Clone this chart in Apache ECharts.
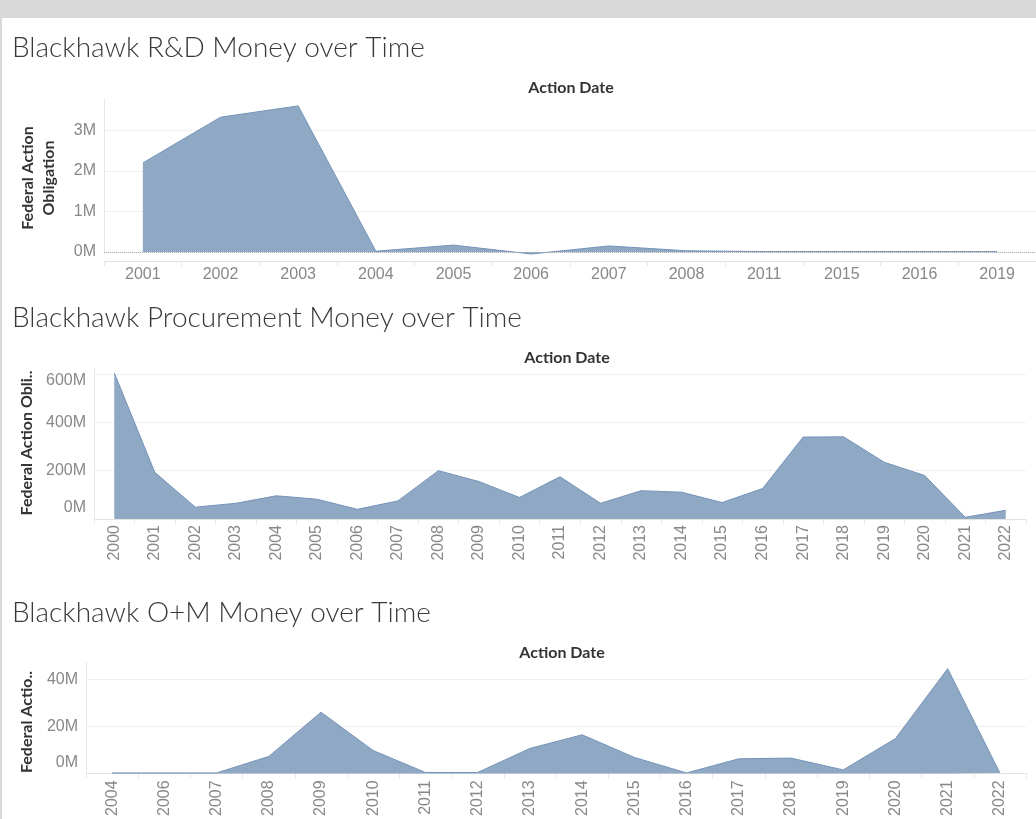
<!DOCTYPE html>
<html>
<head>
<meta charset="utf-8">
<script src="https://cdn.jsdelivr.net/npm/echarts@6/dist/echarts.min.js"></script>
<style>
html, body { margin: 0; padding: 0; background: #fff; }
#chart { width: 1036px; height: 819px; }
</style>
</head>
<body>
<div id="chart"></div>
<script>
// values in millions of dollars
var rdYears = ["2001", "2002", "2003", "2004", "2005", "2006", "2007", "2008", "2011", "2015", "2016", "2019"];
var rdValues = [2.2, 3.33, 3.61, 0.02, 0.17, -0.05, 0.15, 0.03, 0.01, 0.01, 0.01, 0.01];

var procYears = ["2000", "2001", "2002", "2003", "2004", "2005", "2006", "2007", "2008", "2009", "2010", "2011",
  "2012", "2013", "2014", "2015", "2016", "2017", "2018", "2019", "2020", "2021", "2022"];
var procValues = [605, 193, 49, 65, 96, 82, 40, 75, 200, 155, 89, 175, 65, 117, 111, 68, 126, 339, 340, 235, 180, 7, 36];

var omYears = ["2004", "2006", "2007", "2008", "2009", "2010", "2011", "2012", "2013", "2014", "2015", "2016",
  "2017", "2018", "2019", "2020", "2021", "2022"];
var omValues = [0.2, 0.2, 0.2, 7.2, 26, 9.7, 0.4, 0.4, 10.6, 16.4, 6.8, 0.2, 6.2, 6.5, 1.5, 14.8, 44.5, 0.2];

var fillColor = "#8fa8c4";
var edgeColor = "#7593b8";
var labelGray = "#888";
var gridGray = "#efefef";
var fontLabel = "Liberation Sans, Arial, sans-serif";

function xAxisFor(idx, years, rotate, margin, offset) {
  return {
    type: "category",
    gridIndex: idx,
    data: years,
    boundaryGap: true,
    offset: offset || 0,
    axisLine: { show: true, onZero: false, lineStyle: { color: "#e3e3e3" } },
    axisTick: { show: true, length: 5, lineStyle: { color: "#e8e8e8" } },
    axisLabel: {
      interval: 0,
      rotate: rotate,
      margin: margin,
      fontSize: 16,
      fontFamily: fontLabel,
      color: labelGray
    }
  };
}

function yAxisFor(idx, max, interval, formatter) {
  return {
    type: "value",
    gridIndex: idx,
    min: 0,
    max: max,
    interval: interval,
    axisLine: { show: true, lineStyle: { color: "#e6e6e6" } },
    axisTick: { show: false },
    splitLine: { show: true, showMaxLine: false, lineStyle: { color: gridGray } },
    axisLabel: {
      showMaxLabel: false,
      margin: 8,
      fontSize: 16,
      fontFamily: fontLabel,
      color: labelGray,
      formatter: formatter,
      rich: {
        down: { fontSize: 16, fontFamily: fontLabel, color: labelGray, padding: [14, 0, 0, 0] },
        up: { fontSize: 16, fontFamily: fontLabel, color: labelGray, padding: [0, 0, 22, 0] }
      }
    }
  };
}

function areaSeries(idx, values, extra) {
  var s = {
    type: "line",
    xAxisIndex: idx,
    yAxisIndex: idx,
    data: values,
    symbol: "none",
    clip: false,
    lineStyle: { color: edgeColor, width: 1 },
    areaStyle: { color: fillColor, opacity: 1 },
    itemStyle: { color: fillColor }
  };
  for (var k in extra) s[k] = extra[k];
  return s;
}

function titleText(txt, y) {
  return {
    type: "text", x: 12, y: y,
    style: { text: txt, fontSize: 28, fontWeight: 300, fontFamily: "Lato, sans-serif", fill: "#3a3a3a", verticalAlign: "middle" }
  };
}
function headerText(x, y) {
  return {
    type: "text", x: x, y: y,
    style: { text: "Action Date", fontSize: 16, fontWeight: "bold", fontFamily: "Lato, sans-serif", fill: "#333", align: "center", verticalAlign: "middle" }
  };
}
function axisName(txt, x, y) {
  return {
    type: "text", x: x, y: y, rotation: Math.PI / 2,
    style: { text: txt, fontSize: 16, fontWeight: "bold", fontFamily: "Lato, sans-serif", fill: "#333", align: "center", verticalAlign: "middle", lineHeight: 21 }
  };
}

var myChart = echarts.init(document.getElementById("chart"));

var option = {
  animation: false,
  backgroundColor: "#fff",
  grid: [
    { left: 104, top: 99, width: 934, height: 153 },
    { left: 94, top: 368, width: 932, height: 151 },
    { left: 86, top: 663, width: 940, height: 111 }
  ],
  xAxis: [
    xAxisFor(0, rdYears, 0, 6, 9),
    xAxisFor(1, procYears, 90, 6, 0),
    xAxisFor(2, omYears, 90, 7, 0)
  ],
  yAxis: [
    yAxisFor(0, 3.78, 1, function (v) { return v + "M"; }),
    yAxisFor(1, 625, 200, function (v) {
      if (v === 600) return "{down|600M}";
      if (v === 0) return "{up|0M}";
      return v + "M";
    }),
    yAxisFor(2, 46.9, 20, function (v) {
      if (v === 0) return "{up|0M}";
      return v + "M";
    })
  ],
  series: [
    areaSeries(0, rdValues, {
      markLine: {
        silent: true,
        symbol: "none",
        label: { show: false },
        lineStyle: { color: "#aaa", type: "dotted", width: 1 },
        data: [{ yAxis: 0 }]
      }
    }),
    areaSeries(1, procValues, {}),
    areaSeries(2, omValues, {})
  ],
  graphic: [
    { type: "rect", shape: { x: 0, y: 0, width: 1036, height: 18 }, style: { fill: "#d9d9d9" } },
    { type: "rect", shape: { x: 0, y: 0, width: 2, height: 819 }, style: { fill: "#d9d9d9" } },
    titleText("Blackhawk R&D Money over Time", 48),
    titleText("Blackhawk Procurement Money over Time", 318),
    titleText("Blackhawk O+M Money over Time", 613),
    headerText(571, 88),
    headerText(567, 358),
    headerText(562, 653),
    axisName("Federal Action\nObligation", 38, 178),
    axisName("Federal Action Obli..", 27, 443),
    axisName("Federal Actio..", 27, 722)
  ]
};

myChart.setOption(option);
window.addEventListener("resize", function () {
  myChart.resize();
});
</script>
</body>
</html>
